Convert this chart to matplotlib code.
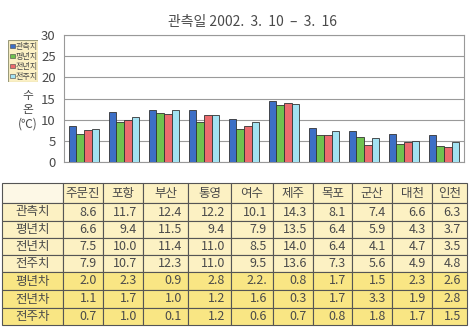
import matplotlib
matplotlib.use("Agg")
import matplotlib.pyplot as plt
from matplotlib.patches import Rectangle
import numpy as np

plt.rcParams['font.family'] = ['Noto Sans CJK KR', 'DejaVu Sans']

stations = ['주문진', '포항', '부산', '통영', '여수', '제주', '목포', '군산', '대천', '인천']
observed = [8.6, 11.7, 12.4, 12.2, 10.1, 14.3, 8.1, 7.4, 6.6, 6.3]
normal = [6.6, 9.4, 11.5, 9.4, 7.9, 13.5, 6.4, 5.9, 4.3, 3.7]
last_year = [7.5, 10.0, 11.4, 11.0, 8.5, 14.0, 6.4, 4.1, 4.7, 3.5]
last_week = [7.9, 10.7, 12.3, 11.0, 9.5, 13.6, 7.3, 5.6, 4.9, 4.8]
diff_normal = ['2.0', '2.3', '0.9', '2.8', '2.2.', '0.8', '1.7', '1.5', '2.3', '2.6']
diff_last_year = ['1.1', '1.7', '1.0', '1.2', '1.6', '0.3', '1.7', '3.3', '1.9', '2.8']
diff_last_week = ['0.7', '1.0', '0.1', '1.2', '0.6', '0.7', '0.8', '1.8', '1.7', '1.5']
series_names = ['관측치', '평년치', '전년치', '전주치']
diff_names = ['평년차', '전년차', '전주차']
yticks = [0, 5, 10, 15, 20, 25, 30]

colors = ['#3d6fc6', '#6fc24f', '#ec6b6e', '#a3e2f2']
txt = '#4a4a4a'

W, H = 472, 330
fig = plt.figure(figsize=(W / 100, H / 100), dpi=100)
fig.patch.set_facecolor('white')

def px_axes(x0, y0, x1, y1):
    return fig.add_axes([x0 / W, 1 - y1 / H, (x1 - x0) / W, (y1 - y0) / H])

# bar chart
ax = px_axes(64, 35, 464, 162)
ax.set_facecolor('white')
n = len(stations)
x = np.arange(n)
bw = 0.185
step = bw * 1.04
for i, vals in enumerate([observed, normal, last_year, last_week]):
    ax.bar(x + (i - 1.5) * step, vals, width=bw, color=colors[i],
           edgecolor='#333333', linewidth=0.6, zorder=3)
ax.set_xlim(-0.5, n - 0.5)
ax.set_ylim(0, 30)
ax.set_yticks(yticks)
ax.set_yticklabels([str(t) for t in yticks], fontsize=9.5, color=txt)
ax.tick_params(axis='y', length=0, pad=6)
ax.set_xticks([])
ax.grid(axis='y', color='#9a9a9a', linewidth=0.8, zorder=0)
for s in ax.spines.values():
    s.set_color('#999999')
    s.set_linewidth(0.8)

fig.text(252 / W, 1 - 22 / H, '관측일 2002.  3.  10  –  3.  16', ha='center', va='center',
         fontsize=10, color=txt)

# y-axis label
for yy, s in zip([95, 109, 124], ['수', '온', '(℃)']):
    fig.text(28 / W, 1 - yy / H, s, ha='center', va='center', fontsize=8.5, color=txt)

# legend box
lax = px_axes(8, 40, 38, 82)
lax.set_xlim(0, 30)
lax.set_ylim(42, 0)
lax.axis('off')
lax.add_patch(Rectangle((0.3, 0.3), 29.4, 41.4, facecolor='#fbf0c4', edgecolor='#9a9a7a', linewidth=0.8))
for i, name in enumerate(series_names):
    yy = 6 + i * 10
    lax.add_patch(Rectangle((2.3, yy - 2.2), 4.4, 4.4, facecolor=colors[i], edgecolor='#444444', linewidth=0.4))
    lax.text(7.8, yy, name, fontsize=5.8, va='center', ha='left', color=txt)

# table
tax = px_axes(0, 180, W, 330)
tax.set_xlim(0, W)
tax.set_ylim(330, 180)
tax.axis('off')
col_edges = [2, 63, 103, 143, 188, 231, 273, 313, 352, 392, 432, 467]
row_edges = [183, 203, 221, 238, 255, 272, 290, 308, 325]
rows = [
    [series_names[0], [f'{v:.1f}' for v in observed]],
    [series_names[1], [f'{v:.1f}' for v in normal]],
    [series_names[2], [f'{v:.1f}' for v in last_year]],
    [series_names[3], [f'{v:.1f}' for v in last_week]],
    [diff_names[0], diff_normal],
    [diff_names[1], diff_last_year],
    [diff_names[2], diff_last_week],
]
light = '#fcf1c3'
strong = '#f9e684'
corner = '#fdf8e6'
edge = '#555555'

for c in range(len(col_edges) - 1):
    x0, x1 = col_edges[c], col_edges[c + 1]
    y0, y1 = row_edges[0], row_edges[1]
    tax.add_patch(Rectangle((x0, y0), x1 - x0, y1 - y0, facecolor=corner if c == 0 else light,
                            edgecolor=edge, linewidth=0.8))
    if c > 0:
        tax.text((x0 + x1) / 2, (y0 + y1) / 2, stations[c - 1], ha='center', va='center',
                 fontsize=9, color=txt)

for r, (label, vals) in enumerate(rows):
    y0, y1 = row_edges[r + 1], row_edges[r + 2]
    fc = light if r < 4 else strong
    for c in range(len(col_edges) - 1):
        x0, x1 = col_edges[c], col_edges[c + 1]
        tax.add_patch(Rectangle((x0, y0), x1 - x0, y1 - y0, facecolor=fc, edgecolor=edge, linewidth=0.8))
        if c == 0:
            tax.text((x0 + x1) / 2, (y0 + y1) / 2, label, ha='center', va='center', fontsize=9, color=txt)
        else:
            tax.text(x1 - 6, (y0 + y1) / 2, vals[c - 1], ha='right', va='center', fontsize=9,
                     color=txt)

fig.savefig('out.png', dpi=100)
